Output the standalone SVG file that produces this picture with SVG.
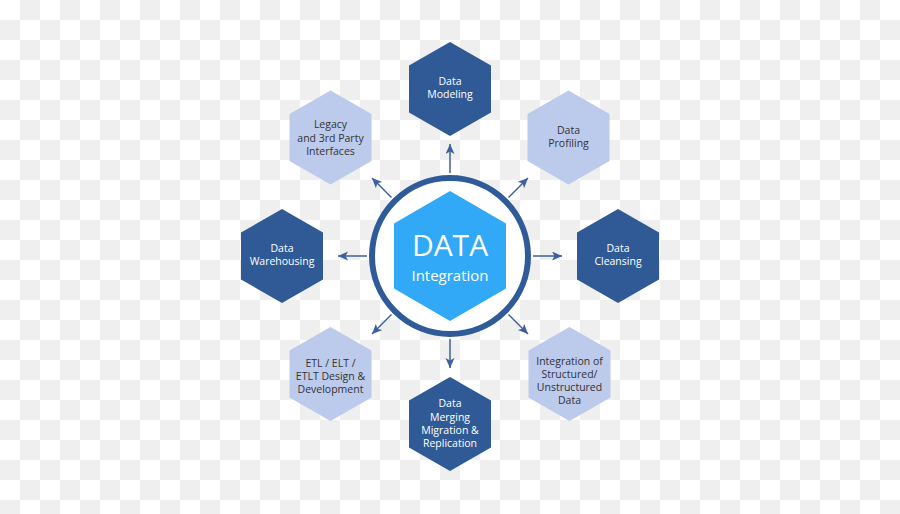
<svg xmlns="http://www.w3.org/2000/svg" width="900" height="514" viewBox="0 0 900 514">
  <defs>
    <pattern id="checker" x="0" y="0" width="40" height="40" patternUnits="userSpaceOnUse">
      <rect width="40" height="40" fill="#ffffff"/>
      <rect x="20" y="0" width="20" height="20" fill="#efefef"/>
      <rect x="0" y="20" width="20" height="20" fill="#efefef"/>
    </pattern>
    <path id="hex" d="M0,-47 L41,-23.5 L41,23.5 L0,47 L-41,23.5 L-41,-23.5 Z"/>
    <marker id="arrow" markerUnits="userSpaceOnUse" markerWidth="11" markerHeight="10" refX="10" refY="4.5" orient="auto">
      <path d="M0,0 L10,4.5 L0,9 L2.5,4.5 Z" fill="#3b609c"/>
    </marker>
  </defs>
  <style>
    .dark { fill: #305a96; }
    .light { fill: #bccaec; }
    .t { font-family: "Open Sans", "Noto Sans", "Liberation Sans", sans-serif; font-size: 10.5px; text-anchor: middle; }
    .tw { fill: #ffffff; }
    .tg { fill: #333333; }
    .conn line { stroke: #3b609c; stroke-width: 1.5; marker-end: url(#arrow); }
  </style>
  <rect width="900" height="514" fill="url(#checker)"/>

  <g id="connectors" class="conn">
    <line x1="450" y1="173" x2="450" y2="144"/>
    <line x1="450" y1="339" x2="450" y2="368"/>
    <line x1="367" y1="256" x2="338" y2="256"/>
    <line x1="533" y1="256" x2="562" y2="256"/>
    <line x1="391.5" y1="197.5" x2="372" y2="178"/>
    <line x1="508.5" y1="197.5" x2="528" y2="178"/>
    <line x1="391.5" y1="314.5" x2="372" y2="334"/>
    <line x1="508.5" y1="314.5" x2="528" y2="334"/>
  </g>

  <g id="center">
    <circle cx="450" cy="256" r="78" fill="#ffffff" stroke="#2f5c99" stroke-width="6"/>
    <path d="M450,191 L506,223.5 L506,288.5 L450,321 L394,288.5 L394,223.5 Z" fill="#31a9f6"/>
    <text x="450" y="256" font-family="'Open Sans', 'Noto Sans', 'Liberation Sans', sans-serif" font-size="30" fill="#ffffff" text-anchor="middle">DATA</text>
    <text x="450" y="281" font-family="'Open Sans', 'Noto Sans', 'Liberation Sans', sans-serif" font-size="15" fill="#ffffff" text-anchor="middle">Integration</text>
  </g>

  <g id="data-modeling">
    <use href="#hex" class="dark" x="450" y="89"/>
    <text class="t tw" x="450" y="85">Data</text>
    <text class="t tw" x="450" y="97.5">Modeling</text>
  </g>

  <g id="data-profiling">
    <use href="#hex" class="light" x="568.5" y="137.5"/>
    <text class="t tg" x="568.5" y="134">Data</text>
    <text class="t tg" x="568.5" y="147">Profiling</text>
  </g>

  <g id="data-cleansing">
    <use href="#hex" class="dark" x="618" y="256"/>
    <text class="t tw" x="618" y="251.5">Data</text>
    <text class="t tw" x="618" y="265">Cleansing</text>
  </g>

  <g id="integration-structured">
    <use href="#hex" class="light" x="569.5" y="374"/>
    <text class="t tg" x="569.5" y="364.5">Integration of</text>
    <text class="t tg" x="569.5" y="377.5">Structured/</text>
    <text class="t tg" x="569.5" y="390.5">Unstructured</text>
    <text class="t tg" x="569.5" y="403.5">Data</text>
  </g>

  <g id="data-merging">
    <use href="#hex" class="dark" x="450" y="424"/>
    <text class="t tw" x="450" y="407">Data</text>
    <text class="t tw" x="450" y="420.5">Merging</text>
    <text class="t tw" x="450" y="434">Migration &amp;</text>
    <text class="t tw" x="450" y="447">Replication</text>
  </g>

  <g id="etl-design">
    <use href="#hex" class="light" x="330.5" y="374"/>
    <text class="t tg" x="330.5" y="366.5">ETL / ELT /</text>
    <text class="t tg" x="330.5" y="379.5">ETLT Design &amp;</text>
    <text class="t tg" x="330.5" y="392.5">Development</text>
  </g>

  <g id="data-warehousing">
    <use href="#hex" class="dark" x="282" y="256"/>
    <text class="t tw" x="282" y="251.5">Data</text>
    <text class="t tw" x="282" y="265">Warehousing</text>
  </g>

  <g id="legacy">
    <use href="#hex" class="light" x="330.5" y="137.5"/>
    <text class="t tg" x="330.5" y="128">Legacy</text>
    <text class="t tg" x="330.5" y="141.5">and 3rd Party</text>
    <text class="t tg" x="330.5" y="154.5">Interfaces</text>
  </g>
</svg>
